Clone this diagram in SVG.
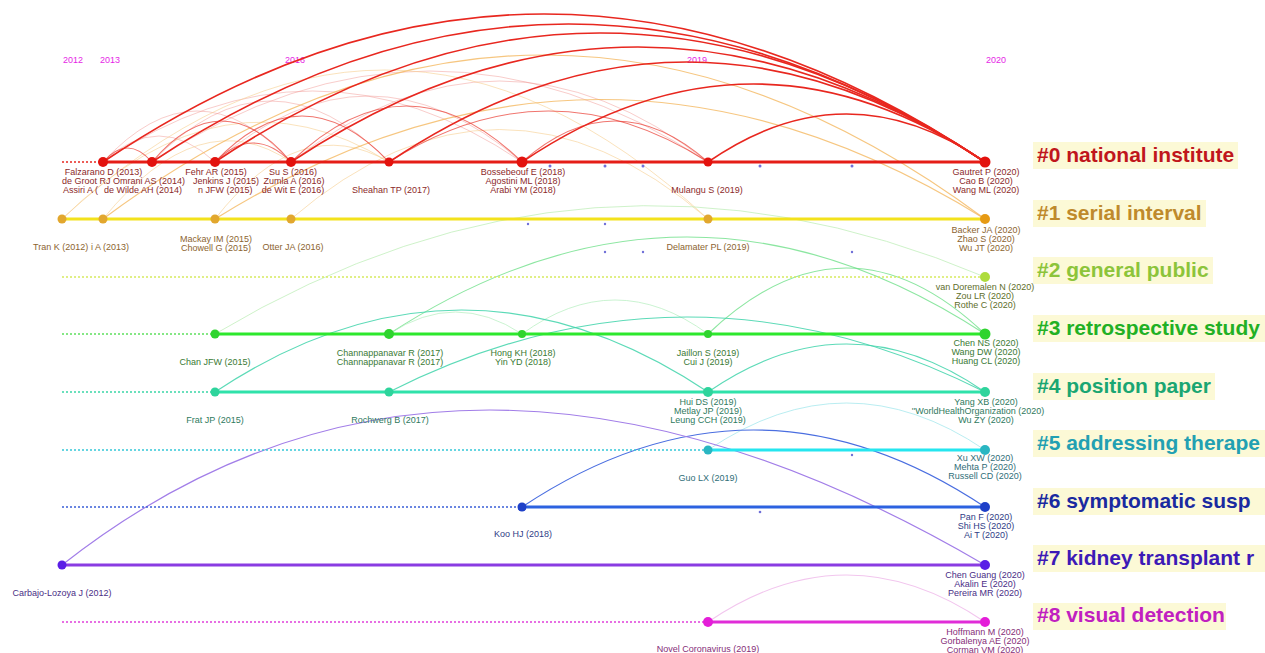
<svg xmlns="http://www.w3.org/2000/svg" width="1265" height="653" viewBox="0 0 1265 653">
<style>
text{font-family:"Liberation Sans",Arial,sans-serif}
.lb{font-size:9px;text-anchor:middle}
.ls{font-size:9px}
.c0{fill:#8c2a2a}
.yr{font-size:9px;fill:#e61ee6;text-anchor:middle}
.cl{font-size:21px;font-weight:bold}
.bg{fill:#fcf9d6}
.dot{fill:none;stroke-width:1.3;stroke-dasharray:2 2}
.sol{fill:none;stroke-width:3.2}
.dt{fill:#6f6fd8}
#connectors path{fill:none}
.r1{stroke:#e8271f;stroke-width:1.6}
.r2{stroke:#ea3b30;stroke-width:1.1;opacity:.7}
.r3{stroke:#f19a96;stroke-width:1;opacity:.5}
.o1{stroke:#f4b860;stroke-width:1.2;opacity:.8}
.o2{stroke:#f6cf8f;stroke-width:1;opacity:.6}
.g1{stroke:#c2efbc;stroke-width:1;opacity:.8}
.g2{stroke:#6fe08a;stroke-width:1.1;opacity:.8}
.g3{stroke:#b4eebe;stroke-width:1;opacity:.7}
.t1{stroke:#3fd4aa;stroke-width:1.2;opacity:.85}
</style>
<rect width="1265" height="653" fill="#ffffff"/>
<g id="years">
<text class="yr" x="73" y="63">2012</text>
<text class="yr" x="110" y="63">2013</text>
<text class="yr" x="295" y="63">2016</text>
<text class="yr" x="697" y="63">2019</text>
<text class="yr" x="996" y="63">2020</text>
</g>
<g id="connectors">
<path class="r3" d="M103,162 Q159,110 215,162"/>
<path class="r3" d="M103,162 Q197,60 291,162"/>
<path class="r3" d="M152,162 Q270.5,40 389,162"/>
<path class="r3" d="M103,162 Q312.5,20 522,162"/>
<path class="r3" d="M215,162 Q368.5,30 522,162"/>
<path class="r3" d="M291,162 Q499.5,0 708,162"/>
<path class="r3" d="M152,162 Q430,-20 708,162"/>
<path class="o2" d="M62,219 Q225,60 389,162"/>
<path class="o2" d="M103,219 Q200,100 291,162"/>
<path class="o2" d="M215,219 Q300,110 389,162"/>
<path class="o1" d="M103,219 Q544,-109 985,219"/>
<path class="o2" d="M62,219 Q385,-79 708,219"/>
<path class="o1" d="M215,219 Q600,-20 985,219"/>
<path class="o2" d="M291,219 Q499.5,40 708,219"/>
<path class="r2" d="M103,162 Q127.5,134 152,162"/>
<path class="r2" d="M152,162 Q221.5,80 291,162"/>
<path class="r2" d="M215,162 Q302,70 389,162"/>
<path class="r2" d="M291,162 Q406.5,50 522,162"/>
<path class="r2" d="M389,162 Q548.5,60 708,162"/>
<path class="r2" d="M522,162 Q615,80 708,162"/>
<path class="r2" d="M215,162 Q253,124 291,162"/>
<path class="r1" d="M103,162 Q544,-134 985,162"/>
<path class="r1" d="M152,162 Q568.5,-114 985,162"/>
<path class="r1" d="M215,162 Q600,-96 985,162"/>
<path class="r1" d="M291,162 Q638,-68 985,162"/>
<path class="r1" d="M389,162 Q687,-38 985,162"/>
<path class="r1" d="M522,162 Q753.5,6 985,162"/>
<path class="r1" d="M708,162 Q846.5,66 985,162"/>
<path class="g1" d="M215,334 Q590,110 985,277"/>
<path class="g2" d="M389,334 Q687,140 985,334"/>
<path class="g2" d="M708,334 Q846.5,202 985,334"/>
<path class="g3" d="M522,334 Q615,266 708,334"/>
<path class="g3" d="M389,334 Q455.5,290 522,334"/>
<path class="t1" d="M215,392 Q461.5,228 708,392"/>
<path class="t1" d="M389,392 Q687,242 985,392"/>
<path class="t1" d="M708,392 Q846.5,296 985,392"/>
<path d="M708,450 Q846.5,356 985,450" stroke="#a8e8ee" stroke-width="1" opacity=".8"/>
<path d="M522,507 Q753.5,353 985,507" stroke="#4a6ee0" stroke-width="1.2"/>
<path d="M62,565 Q456,255 985,565" stroke="#a27ee8" stroke-width="1.2"/>
<path d="M708,622 Q846.5,528 985,622" stroke="#f2c6ee" stroke-width="1.1"/>
</g>
<g id="rows">
<line class="dot" x1="62" y1="162" x2="103" y2="162" stroke="#e8271f"/>
<line class="sol" x1="103" y1="162" x2="985" y2="162" stroke="#e51d17"/>
<line class="sol" x1="62" y1="219" x2="985" y2="219" stroke="#f3e21c"/>
<line class="dot" x1="62" y1="277" x2="985" y2="277" stroke="#d6ea5e"/>
<line class="dot" x1="62" y1="334" x2="215" y2="334" stroke="#5ee05e"/>
<line class="sol" x1="215" y1="334" x2="985" y2="334" stroke="#2de82d"/>
<line class="dot" x1="62" y1="392" x2="215" y2="392" stroke="#3ad6a6"/>
<line class="sol" x1="215" y1="392" x2="985" y2="392" stroke="#2fe2aa"/>
<line class="dot" x1="62" y1="450" x2="708" y2="450" stroke="#34c8d8"/>
<line class="sol" x1="708" y1="450" x2="985" y2="450" stroke="#25e6ef"/>
<line class="dot" x1="62" y1="507" x2="522" y2="507" stroke="#3a5fd8"/>
<line class="sol" x1="522" y1="507" x2="985" y2="507" stroke="#2c62e0"/>
<line class="sol" x1="62" y1="565" x2="985" y2="565" stroke="#8a3ce2"/>
<line class="dot" x1="62" y1="622" x2="708" y2="622" stroke="#e040da"/>
<line class="sol" x1="708" y1="622" x2="985" y2="622" stroke="#e02cd8"/>
</g>
<g id="minor-dots">
<circle class="dt" cx="550" cy="166" r="1.5"/><circle class="dt" cx="605" cy="166" r="1.5"/>
<circle class="dt" cx="643" cy="166" r="1.5"/><circle class="dt" cx="760" cy="166" r="1.5"/>
<circle class="dt" cx="852" cy="166" r="1.5"/><circle class="dt" cx="528" cy="224" r="1.2"/>
<circle class="dt" cx="605" cy="224" r="1.2"/><circle class="dt" cx="605" cy="252" r="1.2"/>
<circle class="dt" cx="643" cy="252" r="1.2"/><circle class="dt" cx="852" cy="252" r="1.2"/>
<circle class="dt" cx="760" cy="512" r="1.3"/><circle class="dt" cx="852" cy="455" r="1.2"/>
</g>
<g id="n0-2013"><circle cx="103" cy="162" r="5" fill="#e3120e"/>
<text class="lb c0" x="103.5" y="175">Falzarano D (2013)</text>
<text class="ls c0" x="62" y="184">de Groot RJ</text>
<text class="ls c0" x="63" y="193">Assiri A (</text></g>
<g id="n0-2014"><circle cx="152" cy="162" r="5" fill="#e3120e"/>
<text class="ls c0" x="113" y="184">Omrani AS (2014)</text>
<text class="ls c0" x="104" y="193">de Wilde AH (2014)</text></g>
<g id="n0-2015"><circle cx="215" cy="162" r="5" fill="#e3120e"/>
<text class="lb c0" x="216" y="175">Fehr AR (2015)</text>
<text class="lb c0" x="226" y="184">Jenkins J (2015)</text>
<text class="ls c0" x="198" y="193">n JFW (2015)</text></g>
<g id="n0-2016"><circle cx="291" cy="162" r="5" fill="#e3120e"/>
<text class="lb c0" x="293" y="175">Su S (2016)</text>
<text class="lb c0" x="294" y="184">Zumla A (2016)</text>
<text class="lb c0" x="293" y="193">de Wit E (2016)</text></g>
<g id="n0-2017"><circle cx="389" cy="162" r="4.5" fill="#e3120e"/>
<text class="lb c0" x="391" y="193">Sheahan TP (2017)</text></g>
<g id="n0-2018"><circle cx="522" cy="162" r="5.5" fill="#e3120e"/>
<text class="lb c0" x="523" y="175">Bossebeouf E (2018)</text>
<text class="lb c0" x="523" y="184">Agostini ML (2018)</text>
<text class="lb c0" x="523" y="193">Arabi YM (2018)</text></g>
<g id="n0-2019"><circle cx="708" cy="162" r="4.5" fill="#e3120e"/>
<text class="lb c0" x="707" y="193">Mulangu S (2019)</text></g>
<g id="n0-2020"><circle cx="985" cy="162" r="5.5" fill="#e3120e"/>
<text class="lb c0" x="986" y="175">Gautret P (2020)</text>
<text class="lb c0" x="986" y="184">Cao B (2020)</text>
<text class="lb c0" x="986" y="193">Wang ML (2020)</text></g>
<g id="n1-2012"><circle cx="62" cy="219" r="4.5" fill="#e2a72e"/>
<text class="ls" x="33" y="250" fill="#8c6430">Tran K (2012)</text></g>
<g id="n1-2013"><circle cx="103" cy="219" r="4.5" fill="#e2a72e"/>
<text class="ls" x="91" y="250" fill="#8c6430">i A (2013)</text></g>
<g id="n1-2015"><circle cx="215" cy="219" r="4.5" fill="#e2a72e"/>
<text class="lb" x="216" y="242" fill="#8c6430">Mackay IM (2015)</text>
<text class="lb" x="216" y="251" fill="#8c6430">Chowell G (2015)</text></g>
<g id="n1-2016"><circle cx="291" cy="219" r="4.5" fill="#e2a72e"/>
<text class="lb" x="293" y="250" fill="#8c6430">Otter JA (2016)</text></g>
<g id="n1-2019"><circle cx="708" cy="219" r="4.5" fill="#e2a72e"/>
<text class="lb" x="708" y="250" fill="#8c6430">Delamater PL (2019)</text></g>
<g id="n1-2020"><circle cx="985" cy="219" r="5" fill="#e69a14"/>
<text class="lb" x="986" y="233" fill="#8c6430">Backer JA (2020)</text>
<text class="lb" x="986" y="242" fill="#8c6430">Zhao S (2020)</text>
<text class="lb" x="986" y="251" fill="#8c6430">Wu JT (2020)</text></g>
<g id="n2-2020"><circle cx="985" cy="277" r="5" fill="#aedc3c"/>
<text class="lb" x="985" y="290" fill="#5e6e2a">van Doremalen N (2020)</text>
<text class="lb" x="985" y="299" fill="#5e6e2a">Zou LR (2020)</text>
<text class="lb" x="985" y="308" fill="#5e6e2a">Rothe C (2020)</text></g>
<g id="n3-2015"><circle cx="215" cy="334" r="4.5" fill="#2fd42f"/>
<text class="lb" x="215" y="365" fill="#3a7a34">Chan JFW (2015)</text></g>
<g id="n3-2017"><circle cx="389" cy="334" r="5" fill="#2fd42f"/>
<text class="lb" x="390" y="356" fill="#3a7a34">Channappanavar R (2017)</text>
<text class="lb" x="390" y="365" fill="#3a7a34">Channappanavar R (2017)</text></g>
<g id="n3-2018"><circle cx="522" cy="334" r="4" fill="#2fd42f"/>
<text class="lb" x="523" y="356" fill="#3a7a34">Hong KH (2018)</text>
<text class="lb" x="523" y="365" fill="#3a7a34">Yin YD (2018)</text></g>
<g id="n3-2019"><circle cx="708" cy="334" r="4" fill="#2fd42f"/>
<text class="lb" x="708" y="356" fill="#3a7a34">Jaillon S (2019)</text>
<text class="lb" x="708" y="365" fill="#3a7a34">Cui J (2019)</text></g>
<g id="n3-2020"><circle cx="985" cy="334" r="5.5" fill="#2fd42f"/>
<text class="lb" x="986" y="346" fill="#3a7a34">Chen NS (2020)</text>
<text class="lb" x="986" y="355" fill="#3a7a34">Wang DW (2020)</text>
<text class="lb" x="986" y="364" fill="#3a7a34">Huang CL (2020)</text></g>
<g id="n4-2015"><circle cx="215" cy="392" r="4.5" fill="#2ed49c"/>
<text class="lb" x="215" y="423" fill="#2f7a5e">Frat JP (2015)</text></g>
<g id="n4-2017"><circle cx="389" cy="392" r="4.5" fill="#2ed49c"/>
<text class="lb" x="390" y="423" fill="#2f7a5e">Rochwerg B (2017)</text></g>
<g id="n4-2019"><circle cx="708" cy="392" r="5" fill="#2ed49c"/>
<text class="lb" x="708" y="405" fill="#2f7a5e">Hui DS (2019)</text>
<text class="lb" x="708" y="414" fill="#2f7a5e">Metlay JP (2019)</text>
<text class="lb" x="708" y="423" fill="#2f7a5e">Leung CCH (2019)</text></g>
<g id="n4-2020"><circle cx="985" cy="392" r="5" fill="#2ed49c"/>
<text class="lb" x="986" y="405" fill="#2f7a5e">Yang XB (2020)</text>
<text class="lb" x="978" y="414" fill="#2f7a5e">''WorldHealthOrganization (2020)</text>
<text class="lb" x="986" y="423" fill="#2f7a5e">Wu ZY (2020)</text></g>
<g id="n5-2019"><circle cx="708" cy="450" r="4.5" fill="#2ab6c2"/>
<text class="lb" x="708" y="481" fill="#2f6e78">Guo LX (2019)</text></g>
<g id="n5-2020"><circle cx="985" cy="450" r="5" fill="#2ab6c2"/>
<text class="lb" x="985" y="461" fill="#2f6e78">Xu XW (2020)</text>
<text class="lb" x="985" y="470" fill="#2f6e78">Mehta P (2020)</text>
<text class="lb" x="985" y="479" fill="#2f6e78">Russell CD (2020)</text></g>
<g id="n6-2018"><circle cx="522" cy="507" r="4.5" fill="#1e40c8"/>
<text class="lb" x="523" y="537" fill="#2f3c86">Koo HJ (2018)</text></g>
<g id="n6-2020"><circle cx="985" cy="507" r="5" fill="#1e40c8"/>
<text class="lb" x="986" y="520" fill="#2f3c86">Pan F (2020)</text>
<text class="lb" x="986" y="529" fill="#2f3c86">Shi HS (2020)</text>
<text class="lb" x="986" y="538" fill="#2f3c86">Ai T (2020)</text></g>
<g id="n7-2012"><circle cx="62" cy="565" r="4.5" fill="#5a1ee6"/>
<text class="lb" x="62" y="596" fill="#4a2e86">Carbajo-Lozoya J (2012)</text></g>
<g id="n7-2020"><circle cx="985" cy="565" r="5" fill="#5a1ee6"/>
<text class="lb" x="985" y="578" fill="#4a2e86">Chen Guang (2020)</text>
<text class="lb" x="985" y="587" fill="#4a2e86">Akalin E (2020)</text>
<text class="lb" x="985" y="596" fill="#4a2e86">Pereira MR (2020)</text></g>
<g id="n8-2019"><circle cx="708" cy="622" r="5" fill="#e41ed8"/>
<text class="lb" x="708" y="652" fill="#862e78">Novel Coronavirus (2019)</text></g>
<g id="n8-2020"><circle cx="985" cy="622" r="5" fill="#e41ed8"/>
<text class="lb" x="985" y="635" fill="#862e78">Hoffmann M (2020)</text>
<text class="lb" x="985" y="644" fill="#862e78">Gorbalenya AE (2020)</text>
<text class="lb" x="985" y="653" fill="#862e78">Corman VM (2020)</text></g>
<g id="clusters">
<rect class="bg" x="1033" y="142" width="205" height="27"/>
<text class="cl" x="1037" y="162" fill="#c0161c">#0 national institute</text>
<rect class="bg" x="1033" y="200" width="173" height="27"/>
<text class="cl" x="1037" y="220" fill="#bf8a2c">#1 serial interval</text>
<rect class="bg" x="1033" y="257" width="180" height="27"/>
<text class="cl" x="1037" y="277" fill="#8cc43a">#2 general public</text>
<rect class="bg" x="1033" y="315" width="232" height="27"/>
<text class="cl" x="1037" y="335" fill="#22b024">#3 retrospective study</text>
<rect class="bg" x="1033" y="373" width="182" height="27"/>
<text class="cl" x="1037" y="393" fill="#1aa672">#4 position paper</text>
<rect class="bg" x="1033" y="430" width="232" height="27"/>
<text class="cl" x="1037" y="450" fill="#22a0b2">#5 addressing therape</text>
<rect class="bg" x="1033" y="488" width="232" height="27"/>
<text class="cl" x="1037" y="508" fill="#1a2aa0">#6 symptomatic susp</text>
<rect class="bg" x="1033" y="545" width="232" height="27"/>
<text class="cl" x="1037" y="565" fill="#3c1ab6">#7 kidney transplant r</text>
<rect class="bg" x="1033" y="603" width="193" height="27"/>
<text class="cl" x="1037" y="622" fill="#c020c0">#8 visual detection</text>
</g>
</svg>
